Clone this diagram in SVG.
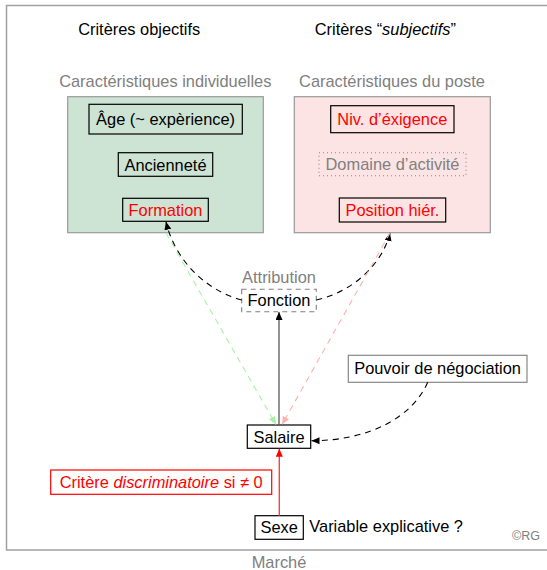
<svg xmlns="http://www.w3.org/2000/svg" width="547" height="570" viewBox="0 0 547 570">
<style>
text{font-family:"Liberation Sans",Arial,Helvetica,sans-serif;font-size:16.4px;fill:#000}
.c{text-anchor:middle}
.g{fill:#808080}
.r{fill:#ff0000}
.box{fill:none;stroke:#000;stroke-width:1.2}
.cdash{fill:none;stroke:#000;stroke-width:1.1;stroke-dasharray:6 5}
</style>
<defs>
<marker id="ak" markerUnits="userSpaceOnUse" markerWidth="9" markerHeight="8" refX="8" refY="3.5" orient="auto"><path d="M0,0 L8,3.5 L0,7 z" fill="#000"/></marker>
<marker id="ag" markerUnits="userSpaceOnUse" markerWidth="9" markerHeight="8" refX="8" refY="3.5" orient="auto"><path d="M0,0 L8,3.5 L0,7 z" fill="#a6f2a6"/></marker>
<marker id="ap" markerUnits="userSpaceOnUse" markerWidth="9" markerHeight="8" refX="8" refY="3.5" orient="auto"><path d="M0,0 L8,3.5 L0,7 z" fill="#ffb0b0"/></marker>
<marker id="ar" markerUnits="userSpaceOnUse" markerWidth="9" markerHeight="8" refX="8" refY="3.5" orient="auto"><path d="M0,0 L8,3.5 L0,7 z" fill="#ff0000"/></marker>
</defs>
<rect width="547" height="570" fill="#fff"/>
<g id="frame">
<rect x="6.5" y="5.5" width="580" height="544.5" fill="none" stroke="#a0a0a0" stroke-width="1.5"/>
<text class="c g" x="279" y="567.7">Marché</text>
<text class="g" x="540" y="540" text-anchor="end" style="font-size:12.5px">©RG</text>
</g>
<g id="titles">
<text class="c" x="139.2" y="35">Critères objectifs</text>
<text class="c" x="385.3" y="35">Critères “<tspan font-style="italic">subjectifs</tspan>”</text>
</g>
<g id="individuelles">
<rect x="67.7" y="96.7" width="195.6" height="136" fill="#cde3d4" stroke="#999" stroke-width="1.2"/>
<text class="c g" x="165.3" y="86.7">Caractéristiques individuelles</text>
</g>
<g id="poste">
<rect x="294.3" y="96.7" width="196" height="136" fill="#fde4e4" stroke="#999" stroke-width="1.2"/>
<text class="c g" x="392" y="86.7">Caractéristiques du poste</text>
</g>
<g id="age">
<rect class="box" x="89" y="104.3" width="153.3" height="29.7"/>
<text class="c" x="165.6" y="125">Âge (~ expèrience)</text>
</g>
<g id="anciennete">
<rect class="box" x="118.3" y="152.7" width="94.4" height="23.6"/>
<text class="c" x="165.5" y="170.6">Ancienneté</text>
</g>
<g id="formation">
<rect class="box" x="122.7" y="198.3" width="85.6" height="23"/>
<text class="c r" x="165.5" y="215.7">Formation</text>
</g>
<g id="exigence">
<rect class="box" x="330.7" y="105.7" width="123.3" height="27"/>
<text class="c r" x="392.3" y="125">Niv. d’éxigence</text>
</g>
<g id="domaine">
<rect x="319" y="152.7" width="147" height="23" fill="none" stroke="#888" stroke-width="1.1" stroke-dasharray="1 3"/>
<text class="c g" x="392.5" y="170.2">Domaine d’activité</text>
</g>
<g id="position">
<rect class="box" x="339.3" y="198" width="106.4" height="24"/>
<text class="c r" x="392.5" y="215.8">Position hiér.</text>
</g>
<g id="fonction">
<text class="c g" x="279" y="282.7">Attribution</text>
<rect x="241.7" y="289.3" width="74.6" height="22.4" fill="none" stroke="#808080" stroke-width="1.1" stroke-dasharray="5 4"/>
<text class="c" x="279" y="306">Fonction</text>
</g>
<g id="pouvoir">
<rect x="348.3" y="355.3" width="178.7" height="27" fill="none" stroke="#888" stroke-width="1.2"/>
<text class="c" x="437.6" y="373.5">Pouvoir de négociation</text>
</g>
<g id="salaire">
<rect class="box" x="247.3" y="425" width="63.4" height="23.3"/>
<text class="c" x="279" y="442.5">Salaire</text>
</g>
<g id="critere">
<rect x="50.7" y="470" width="221" height="24.3" fill="none" stroke="#ff0000" stroke-width="1.2"/>
<text class="c r" x="161.2" y="488.2">Critère <tspan font-style="italic">discriminatoire</tspan> si ≠ 0</text>
</g>
<g id="sexe">
<rect class="box" x="255" y="515.7" width="48.3" height="23.6"/>
<text class="c" x="279.2" y="533.3">Sexe</text>
<text x="309.3" y="531.7">Variable explicative ?</text>
</g>
<g id="connectors">
<path class="cdash" d="M241.7,300 C205,290 175,260 166,221.8" marker-end="url(#ak)"/>
<path class="cdash" d="M316.3,300 C352,292 382,265 390,233" marker-end="url(#ak)"/>
<path d="M279,425 L279,312" fill="none" stroke="#666" stroke-width="1.4" marker-end="url(#ak)"/>
<path d="M166,233 L276,424.5" fill="none" stroke="#a6f2a6" stroke-width="1.1" stroke-dasharray="6 5" marker-end="url(#ag)"/>
<path d="M390,233 L282,424.5" fill="none" stroke="#ffb0b0" stroke-width="1.1" stroke-dasharray="6 5" marker-end="url(#ap)"/>
<path class="cdash" d="M427.7,382.3 C412,418 368,440.7 311.5,440.7" marker-end="url(#ak)"/>
<path d="M279.3,515.7 L279.3,448.8" fill="none" stroke="#ff4040" stroke-width="1.4" marker-end="url(#ar)"/>
</g>
</svg>
